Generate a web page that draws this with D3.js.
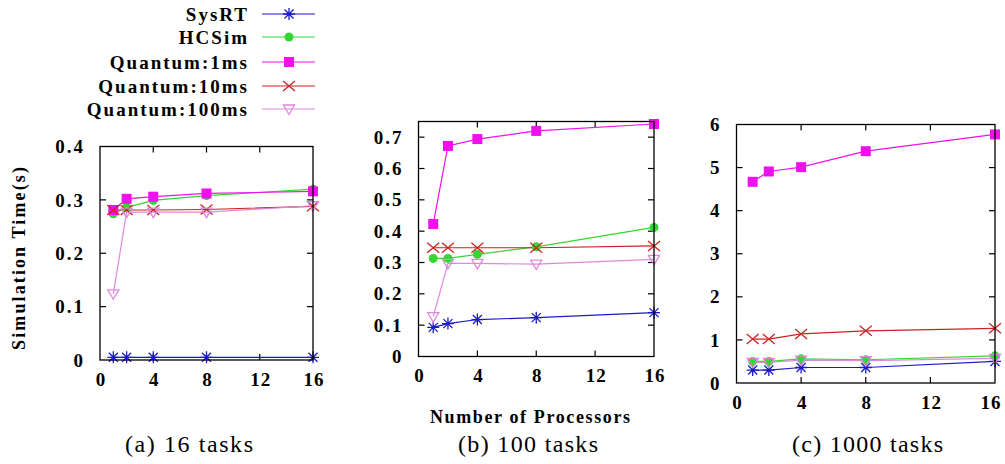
<!DOCTYPE html>
<html>
<head>
<meta charset="utf-8">
<script src="https://cdn.jsdelivr.net/npm/d3@7"></script>
<style>
  body { margin: 0; background: #fff; }
</style>
</head>
<body>
<svg id="chart" width="1005" height="464"></svg>
<script>
// x values (number of processors)
var procs = [1, 2, 4, 8, 16];

var seriesNames = ["SysRT", "HCSim", "Quantum:1ms", "Quantum:10ms", "Quantum:100ms"];
var seriesColors = ["#1a1acc", "#33d633", "#ee11ee", "#cc2222", "#dd88dd"];
var seriesMarks = ["star", "circle", "square", "cross", "tri"];

// (a) 16 tasks
var a_sysrt  = [0.005, 0.005, 0.005, 0.005, 0.005];
var a_hcsim  = [0.274, 0.286, 0.299, 0.308, 0.320];
var a_q1     = [0.281, 0.302, 0.306, 0.312, 0.316];
var a_q10    = [0.281, 0.281, 0.281, 0.282, 0.288];
var a_q100   = [0.124, 0.277, 0.277, 0.277, 0.289];

// (b) 100 tasks
var b_sysrt  = [0.093, 0.105, 0.118, 0.124, 0.140];
var b_hcsim  = [0.313, 0.313, 0.326, 0.350, 0.412];
var b_q1     = [0.423, 0.672, 0.694, 0.720, 0.742];
var b_q10    = [0.347, 0.347, 0.347, 0.347, 0.353];
var b_q100   = [0.127, 0.297, 0.297, 0.295, 0.310];

// (c) 1000 tasks
var c_sysrt  = [0.30, 0.30, 0.36, 0.36, 0.50];
var c_hcsim  = [0.50, 0.50, 0.56, 0.54, 0.63];
var c_q1     = [4.67, 4.91, 5.01, 5.38, 5.77];
var c_q10    = [1.02, 1.02, 1.14, 1.21, 1.27];
var c_q100   = [0.48, 0.48, 0.53, 0.52, 0.57];

var xTicks = [0, 4, 8, 12, 16];

var SERIF = "Liberation Serif";

var panels = [
  { series: [a_sysrt, a_hcsim, a_q1, a_q10, a_q100], ymax: 0.4,
    yTicks: [0, 0.1, 0.2, 0.3, 0.4], fmt: d => d === 0 ? "0" : d3.format(".1f")(d),
    left: 100, right: 313, top: 146.5, bottom: 360,
    caption: "(a) 16 tasks", capX: 125, capW: 128 },
  { series: [b_sysrt, b_hcsim, b_q1, b_q10, b_q100], ymax: 0.75,
    yTicks: [0, 0.1, 0.2, 0.3, 0.4, 0.5, 0.6, 0.7], fmt: d => d === 0 ? "0" : d3.format(".1f")(d),
    left: 418.5, right: 654, top: 121.5, bottom: 356.5,
    caption: "(b) 100 tasks", capX: 458, capW: 140 },
  { series: [c_sysrt, c_hcsim, c_q1, c_q10, c_q100], ymax: 6,
    yTicks: [0, 1, 2, 3, 4, 5, 6], fmt: d => String(d),
    left: 736.5, right: 995, top: 124.5, bottom: 383,
    caption: "(c) 1000 tasks", capX: 792, capW: 151 }
];

var svg = d3.select("#chart");

function drawMark(g, kind, color) {
  if (kind === "star") {
    g.append("path").attr("d", "M-6,0H6M0,-6V6M-4.5,-4.5L4.5,4.5M-4.5,4.5L4.5,-4.5")
      .attr("stroke", color).attr("stroke-width", 1.3).attr("fill", "none");
  } else if (kind === "circle") {
    g.append("circle").attr("r", 4.5).attr("fill", color);
  } else if (kind === "square") {
    g.append("rect").attr("x", -5).attr("y", -5).attr("width", 10).attr("height", 10).attr("fill", color);
  } else if (kind === "cross") {
    g.append("path").attr("d", "M-6,-5L6,5M-6,5L6,-5")
      .attr("stroke", color).attr("stroke-width", 1.3).attr("fill", "none");
  } else if (kind === "tri") {
    g.append("path").attr("d", "M-5.5,-4L5.5,-4L0,5.5Z")
      .attr("stroke", color).attr("stroke-width", 1.3).attr("fill", "none");
  }
}

panels.forEach(function(p) {
  var x = d3.scaleLinear().domain([0, 16]).range([p.left, p.right]);
  var y = d3.scaleLinear().domain([0, p.ymax]).range([p.bottom, p.top]);
  var g = svg.append("g");

  // ticks on all four sides, pointing inwards
  var tl = 6;
  xTicks.forEach(function(t) {
    if (t === 0 || t === 16) return;
    g.append("line").attr("x1", x(t)).attr("x2", x(t)).attr("y1", p.bottom).attr("y2", p.bottom - tl)
      .attr("stroke", "#000").attr("stroke-width", 1.2);
    g.append("line").attr("x1", x(t)).attr("x2", x(t)).attr("y1", p.top).attr("y2", p.top + tl)
      .attr("stroke", "#000").attr("stroke-width", 1.2);
  });
  p.yTicks.forEach(function(t) {
    if (t === 0 || t === p.ymax) return;
    g.append("line").attr("x1", p.left).attr("x2", p.left + tl).attr("y1", y(t)).attr("y2", y(t))
      .attr("stroke", "#000").attr("stroke-width", 1.2);
    g.append("line").attr("x1", p.right).attr("x2", p.right - tl).attr("y1", y(t)).attr("y2", y(t))
      .attr("stroke", "#000").attr("stroke-width", 1.2);
  });

  // tick labels
  g.selectAll(".ylab").data(p.yTicks).enter().append("text")
    .attr("font-family", SERIF).attr("font-weight", "bold").attr("font-size", 19)
    .attr("letter-spacing", 2)
    .attr("x", p.left - 15).attr("y", d => y(d)).attr("dy", "0.35em")
    .attr("text-anchor", "end").text(p.fmt);
  g.selectAll(".xlab").data(xTicks).enter().append("text")
    .attr("font-family", SERIF).attr("font-weight", "bold").attr("font-size", 19)
    .attr("letter-spacing", 1)
    .attr("x", d => Math.min(x(d) + 1, 991)).attr("y", p.bottom + 19).attr("dy", "0.35em")
    .attr("text-anchor", "middle").text(d => d);

  // series lines and markers
  var line = d3.line().x((d, i) => x(procs[i])).y(d => y(d));
  p.series.forEach(function(vals, s) {
    g.append("path").attr("d", line(vals)).attr("fill", "none")
      .attr("stroke", seriesColors[s]).attr("stroke-width", 1.2);
  });
  p.series.forEach(function(vals, s) {
    vals.forEach(function(v, i) {
      var m = g.append("g").attr("transform", "translate(" + x(procs[i]) + "," + y(v) + ")");
      drawMark(m, seriesMarks[s], seriesColors[s]);
    });
  });

  // frame
  g.append("rect").attr("x", p.left).attr("y", p.top)
    .attr("width", p.right - p.left).attr("height", p.bottom - p.top)
    .attr("fill", "none").attr("stroke", "#000").attr("stroke-width", 1.3);

  svg.append("text").attr("font-family", SERIF).attr("font-size", 24)
    .attr("x", p.capX).attr("y", 452)
    .attr("textLength", p.capW).attr("lengthAdjust", "spacing")
    .text(p.caption);
});

// axis titles
svg.append("text").attr("font-family", SERIF).attr("font-weight", "bold").attr("font-size", 18)
  .attr("transform", "translate(25,258) rotate(-90)")
  .attr("x", -92).attr("textLength", 183).attr("lengthAdjust", "spacing")
  .text("Simulation Time(s)");
svg.append("text").attr("font-family", SERIF).attr("font-weight", "bold").attr("font-size", 18)
  .attr("x", 430).attr("y", 423)
  .attr("textLength", 200).attr("lengthAdjust", "spacing")
  .text("Number of Processors");

// legend
var legY = [14, 37, 62, 86, 109];
seriesNames.forEach(function(name, s) {
  svg.append("text").attr("font-family", SERIF).attr("font-weight", "bold").attr("font-size", 19)
    .attr("letter-spacing", 2)
    .attr("x", 249).attr("y", legY[s]).attr("dy", "0.35em")
    .attr("text-anchor", "end").text(name);
  svg.append("line").attr("x1", 262).attr("x2", 315).attr("y1", legY[s]).attr("y2", legY[s])
    .attr("stroke", seriesColors[s]).attr("stroke-width", 1.2);
  var m = svg.append("g").attr("transform", "translate(289," + legY[s] + ")");
  drawMark(m, seriesMarks[s], seriesColors[s]);
});
</script>
</body>
</html>
